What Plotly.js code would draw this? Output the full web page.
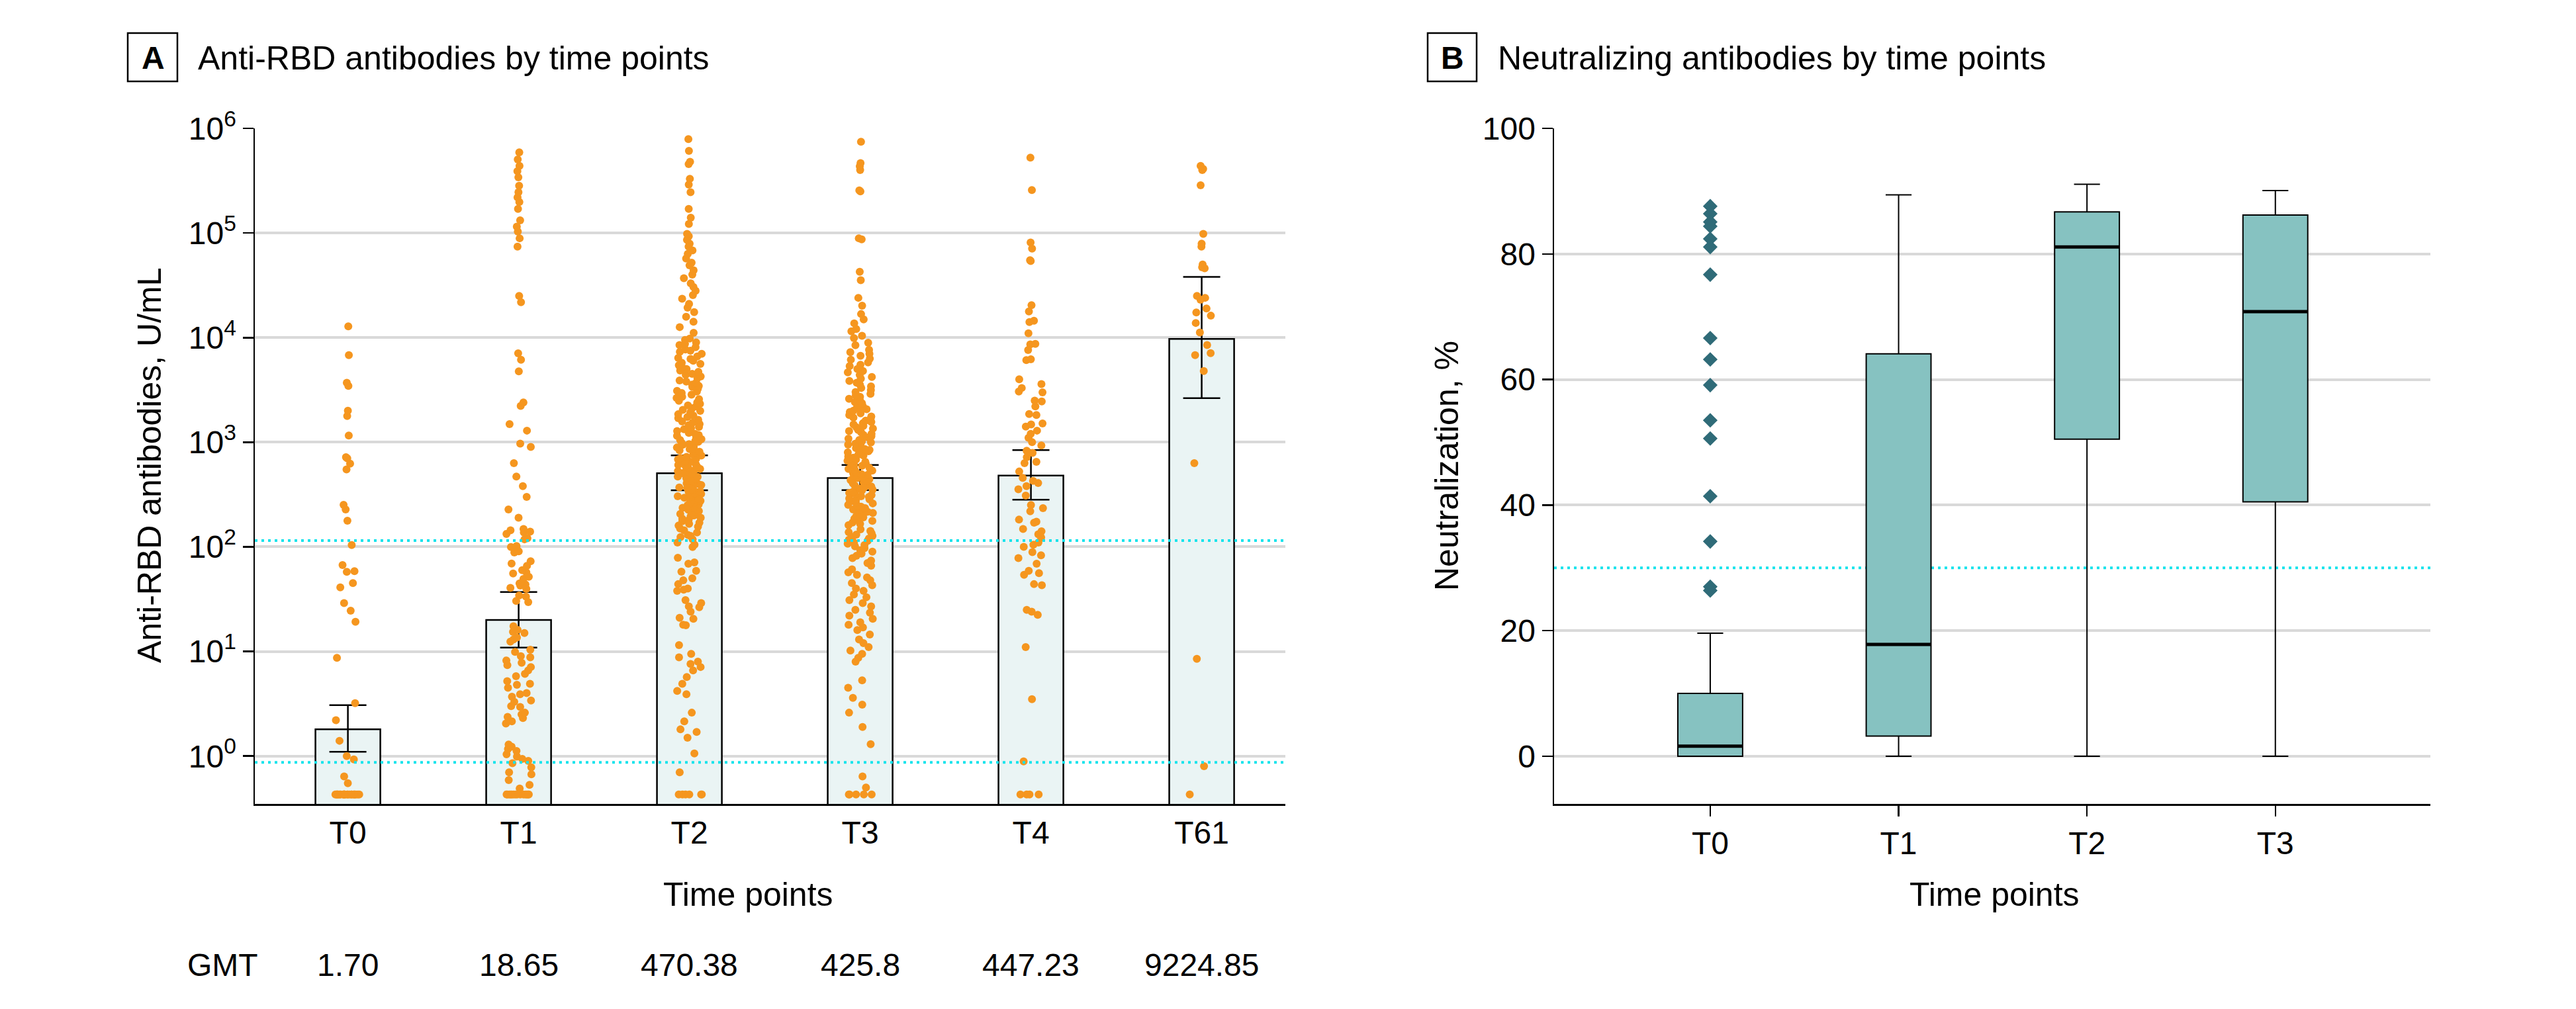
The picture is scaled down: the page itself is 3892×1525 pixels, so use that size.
<!DOCTYPE html>
<html>
<head>
<meta charset="utf-8">
<script src="https://cdn.plot.ly/plotly-3.0.1.min.js"></script>
<style>
  html, body { margin: 0; padding: 0; background: white; }
  #chart { width: 3892px; height: 1525px; }
</style>
</head>
<body>
<div id="chart"></div>
<script>
// ---- Panel A: anti-RBD antibodies (U/mL) ----
const timePoints = ['T0', 'T1', 'T2', 'T3', 'T4', 'T61'];
const gmtLabels = ['1.70', '18.65', '470.38', '425.8', '447.23', '9224.85'];
const barHeights = [1.8, 20, 505, 455, 480, 9700];
const ciLow = [1.10, 10.9, 347, 349, 282, 2640];
const ciHigh = [3.07, 37.0, 748, 606, 841, 38000];
const rbdCutoffs = [0.87, 115];
const logTickExponents = [0, 1, 2, 3, 4, 5, 6];

const rbdT0 = [12800, 6800, 3700, 3450, 2000, 1780, 1160, 720, 700, 625, 550, 252, 228, 178, 104, 67, 58.5, 57.8, 45, 41,
  29, 24.5, 19.2, 8.7, 3.2, 2.2, 1.4, 1.0, 0.93, 0.64, 0.55,
  0.43, 0.43, 0.43, 0.43, 0.43, 0.43, 0.43, 0.43, 0.43, 0.43, 0.43, 0.43, 0.43, 0.43, 0.43, 0.43, 0.43, 0.43, 0.43, 0.43,
  0.43, 0.43, 0.43, 0.43];

const rbdT1 = [589000, 505000, 437000, 390000, 340000, 283000, 245000, 219000, 198000, 170000, 132000, 115000, 103000,
  89000, 74000, 25000, 21800, 7080, 6130, 4760, 2400, 2220, 1490, 1290, 970, 900, 630, 470, 380, 300, 228, 190, 148,
  144, 140, 137, 133, 121, 118, 102, 99.6, 90.5, 88.3, 72.8, 69.2, 65.9, 59.8, 57, 55.7, 51.8, 49.3, 44.8, 43.7, 42.7,
  40.6, 39.6, 34.3, 33.4, 30.4, 29.6, 17.4, 16.1, 15.4, 15, 13.6, 13, 12.4, 10.4, 9.9, 9.0, 8.8, 8.2, 7.8, 7.4, 7.1,
  6.6, 6.1, 5.8, 5.2, 4.9, 4.8, 4.5, 4.0, 3.9, 3.7, 3.4, 3.3, 3.0, 2.95, 2.6, 2.5, 2.37, 2.31, 2.15, 2.05, 1.29, 1.23,
  1.17, 1.12, 1.04, 0.99, 0.94, 0.90, 0.855, 0.78, 0.70, 0.67, 0.59, 0.53, 0.49,
  0.43, 0.43, 0.43, 0.43, 0.43, 0.43, 0.43, 0.43, 0.43, 0.43, 0.43, 0.43, 0.43, 0.43];

const rbdT2 = [790000, 610000, 480000, 455000, 330000, 290000, 245000, 170000, 140000, 122000,
  98000, 93000, 86000, 79000, 74000, 68000, 63000, 57000, 52000, 49000, 44000, 40000, 37000, 33000, 30500, 28000,
  25500, 23500, 21000, 19300, 17500, 15800, 14200, 12600, 11100,
  9800, 9500, 9000, 8700, 8500, 8100, 7700, 7500, 7300, 7000, 6600, 6400, 6250, 6000, 5750, 5600, 5450, 5200, 5000,
  4850, 4700, 4500, 4400, 4250, 4100, 3900, 3800, 3700, 3550, 3450, 3380, 3250, 3100, 3050, 2950, 2850, 2720, 2650,
  2580, 2490, 2400, 2330, 2250, 2200, 2110, 2040, 1990, 1920, 1850, 1800, 1740, 1700, 1640, 1580, 1540, 1490, 1460,
  1400, 1360, 1330, 1280, 1230, 1200, 1170, 1150, 1110, 1070, 1050, 1030, 1010,
  985, 960, 945, 915, 890, 875, 860, 835, 810, 795, 770, 760, 745, 725, 705, 695, 685, 660, 650, 640, 615, 607, 590,
  580, 570, 555, 540, 530, 520, 505, 498, 487, 470, 466, 455, 446, 430, 427, 418, 405, 400, 390, 382, 370, 366, 355,
  350, 340, 335, 325, 321, 314, 305, 300, 295, 287, 280, 275, 266, 263, 255, 250, 246, 238, 236, 228, 226, 220, 216,
  210, 206, 200, 196, 190, 186, 180, 176, 170, 166, 160, 156, 150,
  144, 137, 130, 127, 124, 118, 110, 105, 99.5, 78.7, 71, 69, 59, 58, 50, 48, 44, 40, 39, 38, 31, 29, 27, 26.5, 24,
  21, 20.5, 18, 17.8, 11.5, 9.5, 8.8, 8.0, 7.6, 7.1, 6.6, 5.7, 4.9, 4.2, 3.9, 2.6, 2.15, 1.8, 1.7, 1.5, 1.06, 0.70,
  0.43, 0.43, 0.43, 0.43, 0.43, 0.43];

const rbdT3 = [745000, 466000, 434000, 400000, 255000, 250000, 89000, 87000, 42600, 35400, 24000, 20200, 16800, 14900,
  13700, 12100, 11500, 10400, 9880, 8920, 8470, 7650, 7270,
  7000, 6700, 6300, 6150, 5800, 5500, 5350, 5000, 4800, 4650, 4400, 4200, 4050, 3850, 3700, 3550, 3420, 3300, 3150,
  3020, 2900, 2800, 2720, 2600, 2500, 2420, 2360, 2270, 2200, 2130, 2070, 2000, 1940, 1890, 1820, 1760, 1720, 1660,
  1610, 1560, 1520, 1480, 1430, 1390, 1350, 1310, 1280, 1240, 1200, 1170, 1140, 1110, 1080, 1050, 1020, 995, 970, 950,
  920, 900, 880, 860, 845, 820, 800, 785, 762, 745, 730, 712, 696, 684, 665, 650, 640, 622, 608, 596, 581, 570, 555,
  543, 535, 519, 507, 496, 488, 474, 463, 455, 443, 433, 426, 413, 404, 397, 386, 377, 370, 360, 352, 346, 336, 328,
  322, 312, 305, 300, 291, 284, 280, 270, 264, 260, 252, 246, 242, 234, 228, 224, 216, 211, 206, 201, 197, 191, 186,
  181, 177, 171, 166, 161,
  147, 142, 138, 135, 131, 127, 124, 120, 117, 114, 110, 107, 104, 101, 97, 93, 90, 86, 82, 78, 74, 70, 66, 61, 57,
  54, 51, 48, 45, 43, 40, 38, 35, 33, 31, 29, 27, 25, 23.5, 22, 20.5, 19, 18, 17, 16,
  14.5, 13, 12, 11, 10.2, 9.5, 8.7, 8.0, 5.3, 4.5, 3.6, 3.1, 2.6, 1.9, 1.3, 0.64, 0.50,
  0.43, 0.43, 0.43, 0.43, 0.43];

const rbdT4 = [525000, 257000, 81000, 71000, 55000, 54000, 20400, 17800, 14500, 14100, 11000, 8700, 8600, 7600, 6200,
  6100, 4000, 3600, 3300, 3000, 3050, 2500, 2450, 2200, 1860, 1820, 1510, 1480, 1410, 1290, 1200, 1100, 1000, 930, 830,
  790, 720, 650, 630, 525, 457, 427, 407, 380, 355, 309, 251, 234, 219, 182, 174, 170, 148, 141, 132, 123, 110, 105,
  100, 89, 83, 78, 69, 59, 56, 54, 44, 43, 25, 24, 22.4, 11, 3.5, 0.89,
  0.43, 0.43, 0.43, 0.43];

const rbdT61 = [437000, 410000, 400000, 286000, 98000, 79000, 74000, 50000, 47000, 46000, 25000, 24000, 23000, 19000,
  17400, 16200, 13800, 11200, 8500, 7100, 6800, 4800, 630, 8.5, 0.8, 0.43];

// ---- Panel B: neutralizing antibodies (%) ----
const nabTimePoints = ['T0', 'T1', 'T2', 'T3'];
const nabQ1 = [0, 3.2, 50.5, 40.5];
const nabMedian = [1.6, 17.8, 81.1, 70.8];
const nabQ3 = [10.0, 64.1, 86.7, 86.2];
const nabLowerFence = [0, 0, 0, 0];
const nabUpperFence = [19.6, 89.4, 91.1, 90.1];
const nabOutliersT0 = [87.6, 86.4, 85.1, 84.4, 82.4, 81.1, 76.7, 66.6, 63.2, 59.1, 53.5, 50.6, 41.4, 34.2, 27.0, 26.4];
const nabCutoff = 30;

const FONT = '"Liberation Sans", Arial, sans-serif';
const W = 3892, H = 1525;
const px = x => x / W;          // pixel -> paper x
const py = y => 1 - y / H;      // pixel -> paper y

// Collect the per-time-point RBD samples into one strip trace
const rbdGroups = [rbdT0, rbdT1, rbdT2, rbdT3, rbdT4, rbdT61];
const stripX = [];
const stripY = [];
rbdGroups.forEach((vals, i) => {
    vals.forEach(v => { stripX.push(timePoints[i]); stripY.push(v); });
});

const data = [
    {
        type: 'bar',
        x: timePoints,
        y: barHeights,
        width: 0.38,
        marker: { color: '#eaf4f4', line: { color: 'black', width: 2.5 } },
        error_y: {
            type: 'data',
            symmetric: false,
            array: ciHigh.map((h, i) => h - barHeights[i]),
            arrayminus: ciLow.map((l, i) => barHeights[i] - l),
            color: 'black',
            thickness: 2.5,
            width: 28
        },
        xaxis: 'x', yaxis: 'y',
        hoverinfo: 'skip'
    },
    {
        // invisible box, only its jittered points are shown
        type: 'box',
        x: stripX,
        y: stripY,
        boxpoints: 'all',
        jitter: 0.75,
        pointpos: 0,
        width: 0.2,
        fillcolor: 'rgba(0,0,0,0)',
        line: { color: 'rgba(0,0,0,0)', width: 0 },
        marker: { color: '#f5961f', size: 12, line: { width: 0 } },
        xaxis: 'x', yaxis: 'y'
    },
    {
        type: 'box',
        x: nabTimePoints,
        q1: nabQ1,
        median: nabMedian,
        q3: nabQ3,
        lowerfence: nabLowerFence,
        upperfence: nabUpperFence,
        boxpoints: false,
        width: 0.344,
        whiskerwidth: 0.4,
        fillcolor: '#86c2c1',
        line: { color: 'black', width: 2 },
        xaxis: 'x2', yaxis: 'y2'
    },
    {
        type: 'scatter',
        mode: 'markers',
        x: nabOutliersT0.map(() => nabTimePoints[0]),
        y: nabOutliersT0,
        marker: { symbol: 'diamond', size: 17, color: '#2f6b78' },
        xaxis: 'x2', yaxis: 'y2'
    }
];

// Shapes: cutoff lines, thick medians, panel letter boxes
const shapes = [];
rbdCutoffs.forEach(c => {
    shapes.push({
        type: 'line', xref: 'x domain', yref: 'y', x0: 0, x1: 1, y0: c, y1: c,
        line: { color: '#14e3ec', width: 4, dash: '4px,6px' }, layer: 'above'
    });
});
shapes.push({
    type: 'line', xref: 'x2 domain', yref: 'y2', x0: 0, x1: 1, y0: nabCutoff, y1: nabCutoff,
    line: { color: '#14e3ec', width: 4, dash: '4px,6px' }, layer: 'below'
});
nabMedian.forEach((m, i) => {
    shapes.push({
        type: 'line', xref: 'x2', yref: 'y2', x0: i - 0.172, x1: i + 0.172, y0: m, y1: m,
        line: { color: 'black', width: 5 }
    });
});
[[193, 268], [2157, 2231]].forEach(b => {
    shapes.push({
        type: 'rect', xref: 'paper', yref: 'paper',
        x0: px(b[0]), x1: px(b[1]), y0: py(123), y1: py(50),
        line: { color: 'black', width: 2.5 }
    });
});

const annotations = [
    { text: '<b>A</b>', x: px(231), y: py(87), xanchor: 'center', yanchor: 'middle', font: { size: 48 } },
    { text: 'Anti-RBD antibodies by time points', x: px(297), y: py(88), xanchor: 'left', yanchor: 'middle', font: { size: 50 } },
    { text: '<b>B</b>', x: px(2194), y: py(87), xanchor: 'center', yanchor: 'middle', font: { size: 48 } },
    { text: 'Neutralizing antibodies by time points', x: px(2261), y: py(88), xanchor: 'left', yanchor: 'middle', font: { size: 50 } },
    { text: 'Anti-RBD antibodies, U/mL', x: px(226), y: py(704), textangle: -90, xanchor: 'center', yanchor: 'middle', font: { size: 50 } },
    { text: 'Neutralization, %', x: px(2186), y: py(704), textangle: -90, xanchor: 'center', yanchor: 'middle', font: { size: 50 } },
    { text: 'Time points', x: px(1130), y: py(1352), xanchor: 'center', yanchor: 'middle', font: { size: 50 } },
    { text: 'Time points', x: px(3013), y: py(1352), xanchor: 'center', yanchor: 'middle', font: { size: 50 } },
    { text: 'GMT', x: px(336), y: py(1458), xanchor: 'center', yanchor: 'middle', font: { size: 48 } }
];
gmtLabels.forEach((g, i) => {
    annotations.push({
        text: g, xref: 'x', yref: 'paper', x: timePoints[i], y: py(1458),
        xanchor: 'center', yanchor: 'middle', showarrow: false, font: { size: 48 }
    });
});
annotations.forEach(a => {
    if (!a.xref) { a.xref = 'paper'; a.yref = 'paper'; }
    a.showarrow = false;
});

const yDomain = [py(1215), py(194)];
const axisLine = { showline: true, linecolor: 'black', linewidth: 2.5, zeroline: false };

const layout = {
    width: W,
    height: H,
    margin: { l: 0, r: 0, t: 0, b: 0 },
    paper_bgcolor: 'white',
    plot_bgcolor: 'white',
    font: { family: FONT, size: 48, color: 'black' },
    showlegend: false,
    hovermode: false,
    xaxis: Object.assign({
        domain: [px(385), px(1942)],
        anchor: 'y',
        type: 'category',
        range: [-0.545, 5.49],
        ticks: '',
        showgrid: false,
        tickfont: { size: 48 }
    }, axisLine),
    yaxis: Object.assign({
        domain: yDomain,
        anchor: 'x',
        type: 'log',
        range: [-0.457, 6],
        tickmode: 'array',
        tickvals: logTickExponents.map(e => Math.pow(10, e)),
        ticktext: logTickExponents.map(e => '10<sup>' + e + '</sup>'),
        ticks: 'outside',
        ticklen: 16,
        tickwidth: 2.5,
        tickcolor: 'black',
        showgrid: true,
        gridcolor: '#d9d9d9',
        gridwidth: 4,
        tickfont: { size: 48 }
    }, axisLine),
    xaxis2: Object.assign({
        domain: [px(2348), px(3672)],
        anchor: 'y2',
        type: 'category',
        range: [-0.829, 3.823],
        ticks: 'outside',
        ticklen: 16,
        tickwidth: 2.5,
        tickcolor: 'black',
        showgrid: false,
        tickfont: { size: 48 }
    }, axisLine),
    yaxis2: Object.assign({
        domain: yDomain,
        anchor: 'x2',
        range: [-7.6, 100],
        tick0: 0,
        dtick: 20,
        ticks: 'outside',
        ticklen: 16,
        tickwidth: 2.5,
        tickcolor: 'black',
        showgrid: true,
        gridcolor: '#d9d9d9',
        gridwidth: 4,
        tickfont: { size: 48 }
    }, axisLine),
    shapes: shapes,
    annotations: annotations
};

Plotly.newPlot('chart', data, layout, { displayModeBar: false, staticPlot: true });
</script>
</body>
</html>
